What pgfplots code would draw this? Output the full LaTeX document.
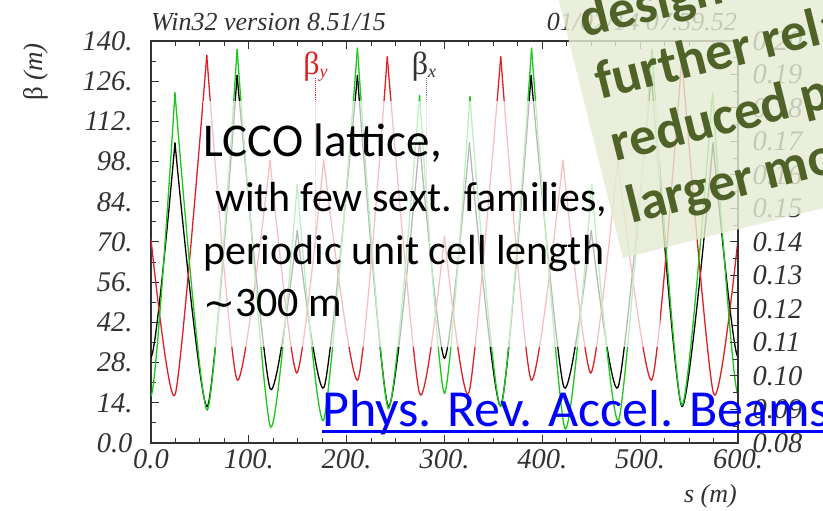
\documentclass[border=0pt]{standalone}
\usepackage{fontspec}
\setmainfont{Liberation Serif}
\newfontfamily\calib{Carlito}
\newfontfamily\dejavu{DejaVu Sans}
\usepackage{pgfplots}
\pgfplotsset{compat=1.18}
\definecolor{betared}{RGB}{225,30,35}
\definecolor{betagreen}{RGB}{25,200,25}
\definecolor{boxgreen}{RGB}{228,235,210}
\definecolor{olivetext}{RGB}{79,98,40}
\definecolor{axisgray}{RGB}{50,50,50}
\pgfplotsset{
  kx/.style={black, line width=1.3pt, line cap=round, smooth, tension=0.4, forget plot},
  ry/.style={betared, line width=1.3pt, line cap=round, smooth, tension=0.4, forget plot},
  gz/.style={betagreen, line width=1.3pt, line cap=round, smooth, tension=0.4, forget plot},
}
\begin{document}
\begin{tikzpicture}
\useasboundingbox (0,0) rectangle (823pt,511pt);
\clip (0,0) rectangle (823pt,511pt);
\begin{axis}[
  at={(151pt,68pt)}, anchor=south west,
  scale only axis, width=587pt, height=402pt,
  xmin=0, xmax=600, ymin=0, ymax=140,
  axis line style={axisgray, line width=1.1pt},
  every tick/.style={axisgray, line width=1pt},
  tick align=inside,
  major tick length=8pt, minor tick length=5pt,
  xtick={0,100,200,300,400,500,600},
  xticklabels={0.0,100.,200.,300.,400.,500.,600.},
  minor x tick num=3,
  ytick={0,14,28,42,56,70,84,98,112,126,140},
  yticklabels={0.0,14.,28.,42.,56.,70.,84.,98.,112.,126.,140.},
  minor y tick num=1,
  ytick pos=left,
  xticklabel style={font=\itshape\fontsize{28.5}{28.5}\selectfont, text=axisgray, yshift=-3pt},
  yticklabel style={font=\itshape\fontsize{28.5}{28.5}\selectfont, text=axisgray, xshift=-15pt},
]
% beta_x (black)
\addplot[kx] coordinates {(-24.5,104.5)(0,30)(24.5,104.5)};
\addplot[kx] coordinates {(24.5,104.5)(57.6,12.7)(88,128)};
\addplot[kx] coordinates {(88,128)(121.7,19)(149.5,74)};
\addplot[kx] coordinates {(149.5,74)(177,19.5)(211,128)};
\addplot[kx] coordinates {(211,128)(242.6,12.7)(274.5,105)};
\addplot[kx] coordinates {(274.5,105)(300,29.5)(325.5,104.5)};
\addplot[kx] coordinates {(325.5,104.5)(357.5,13)(388.5,128)};
\addplot[kx] coordinates {(388.5,128)(422,19.5)(450,74)};
\addplot[kx] coordinates {(450,74)(477.5,19.5)(511.5,128)};
\addplot[kx] coordinates {(511.5,128)(542.6,12.7)(574.5,104.5)};
\addplot[kx] coordinates {(574.5,104.5)(600,30)(625.5,104.5)};
% beta_y (red)
\addplot[ry] coordinates {(0,71)(24.8,17)(57,135)};
\addplot[ry] coordinates {(57,135)(88,22)(121.7,98.5)};
\addplot[ry] coordinates {(121.7,98.5)(149,24.4)(176.5,98.5)};
\addplot[ry] coordinates {(176.5,98.5)(211.5,22)(241.5,134.5)};
\addplot[ry] coordinates {(241.5,134.5)(274.5,17.2)(300,72)};
\addplot[ry] coordinates {(300,72)(325,17.5)(357.5,134.5)};
\addplot[ry] coordinates {(357.5,134.5)(388.5,22)(421,98.5)};
\addplot[ry] coordinates {(421,98.5)(449.5,24.4)(477,98.5)};
\addplot[ry] coordinates {(477,98.5)(512,22)(542.5,134)};
\addplot[ry] coordinates {(542.5,134)(575,17.2)(600,71)};
% third function (green)
\addplot[gz] coordinates {(-24.5,122)(0,16.5)(24.5,122)};
\addplot[gz] coordinates {(24.5,122)(57.6,11.5)(88,137)};
\addplot[gz] coordinates {(88,137)(122,5.7)(149.5,90)};
\addplot[gz] coordinates {(149.5,90)(176.5,8)(211,137.5)};
\addplot[gz] coordinates {(211,137.5)(242.6,12)(274.5,121)};
\addplot[gz] coordinates {(274.5,121)(300,17.3)(326,120.6)};
\addplot[gz] coordinates {(326,120.6)(357.5,12.7)(389,137.5)};
\addplot[gz] coordinates {(389,137.5)(423,5.1)(450.5,90)};
\addplot[gz] coordinates {(450.5,90)(478,8)(512,137)};
\addplot[gz] coordinates {(512,137)(542.6,13.2)(574,122)};
\addplot[gz] coordinates {(574,122)(600,17)(626,122)};
% curve labels
\draw[betared, densely dotted, line width=0.9pt] (axis cs:167.7,127) -- (axis cs:167.7,68);
\draw[gray, densely dotted, line width=0.9pt] (axis cs:281.2,127) -- (axis cs:281.2,86);
\node[anchor=base west, inner sep=0, text=betared, font=\fontsize{32}{32}\selectfont]
  at (axis cs:155.5,128.5) {β\raisebox{-3pt}{\fontsize{18}{18}\selectfont\itshape y}};
\node[anchor=base west, inner sep=0, text=axisgray, font=\fontsize{32}{32}\selectfont]
  at (axis cs:266.5,128.5) {β\raisebox{-3pt}{\fontsize{18}{18}\selectfont\itshape x}};
\end{axis}
\begin{axis}[
  at={(151pt,68pt)}, anchor=south west,
  scale only axis, width=587pt, height=402pt,
  xmin=0, xmax=600, ymin=0.08, ymax=0.20,
  axis x line=none, axis y line*=right,
  axis line style={axisgray, line width=1.1pt},
  every tick/.style={axisgray, line width=1pt},
  tick align=inside,
  major tick length=8pt, minor tick length=5pt,
  ytick={0.08,0.09,0.10,0.11,0.12,0.13,0.14,0.15,0.16,0.17,0.18,0.19,0.20},
  yticklabels={0.08,0.09,0.10,0.11,0.12,0.13,0.14,0.15,0.16,0.17,0.18,0.19,0.20},
  minor y tick num=1,
  yticklabel style={font=\itshape\fontsize{28.5}{28.5}\selectfont, text=axisgray, xshift=11pt},
]
\end{axis}
% header and axis titles
\node[anchor=base west, inner sep=0, text=axisgray, font=\itshape\fontsize{26}{26}\selectfont] at (151pt,480pt) {Win32 version 8.51/15};
\node[anchor=base east, inner sep=0, text=axisgray, font=\itshape\fontsize{26}{26}\selectfont] at (737pt,480pt) {01/02/14 07.59.52};
\node[rotate=90, inner sep=0, text=axisgray, font=\fontsize{27}{27}\selectfont] at (36pt,439pt) {β \textit{(m)}};
\node[anchor=base east, inner sep=0, text=axisgray, font=\itshape\fontsize{26}{26}\selectfont] at (737pt,8pt) {s (m)};
% white text box
\fill[white, opacity=0.72] (203pt,164pt) rectangle (660pt,410pt);
\node[anchor=base west, inner sep=0, font=\calib\fontsize{47}{47}\selectfont] at (203pt,354pt) {LCCO lattice,};
\node[anchor=base west, inner sep=0, font=\calib\fontsize{42}{42}\selectfont] at (215pt,299pt) {with few sext. families,};
\node[anchor=base west, inner sep=0, font=\calib\fontsize{42}{42}\selectfont] at (203pt,246pt) {periodic unit cell length};
\node[anchor=base west, inner sep=0, font=\calib\fontsize{42}{42}\selectfont] at (203pt,194pt) {{\dejavu\fontsize{38}{38}\selectfont ∼}300 m};
% green rotated box
\fill[boxgreen, opacity=0.82, rotate around={14:(623pt,253pt)}] (623pt,253pt) rectangle (1150pt,750pt);
\node[rotate=14, anchor=base west, inner sep=0, text=olivetext, font=\calib\bfseries\fontsize{54}{54}\selectfont] at (584.5pt,473pt) {design with};
\node[rotate=14, anchor=base west, inner sep=0, text=olivetext, font=\calib\bfseries\fontsize{54}{54}\selectfont] at (600pt,411pt) {further relaxed};
\node[rotate=14, anchor=base west, inner sep=0, text=olivetext, font=\calib\bfseries\fontsize{54}{54}\selectfont] at (615.5pt,349pt) {reduced power};
\node[rotate=14, anchor=base west, inner sep=0, text=olivetext, font=\calib\bfseries\fontsize{54}{54}\selectfont] at (631pt,287pt) {larger momentum};
% link
\node[anchor=base west, inner sep=0, text=blue, font=\calib\fontsize{52}{52}\selectfont] at (322pt,84pt) {Phys. Rev. Accel. Beams};
\draw[blue, line width=3pt] (322pt,79.5pt) -- (840pt,79.5pt);
\end{tikzpicture}
\end{document}
